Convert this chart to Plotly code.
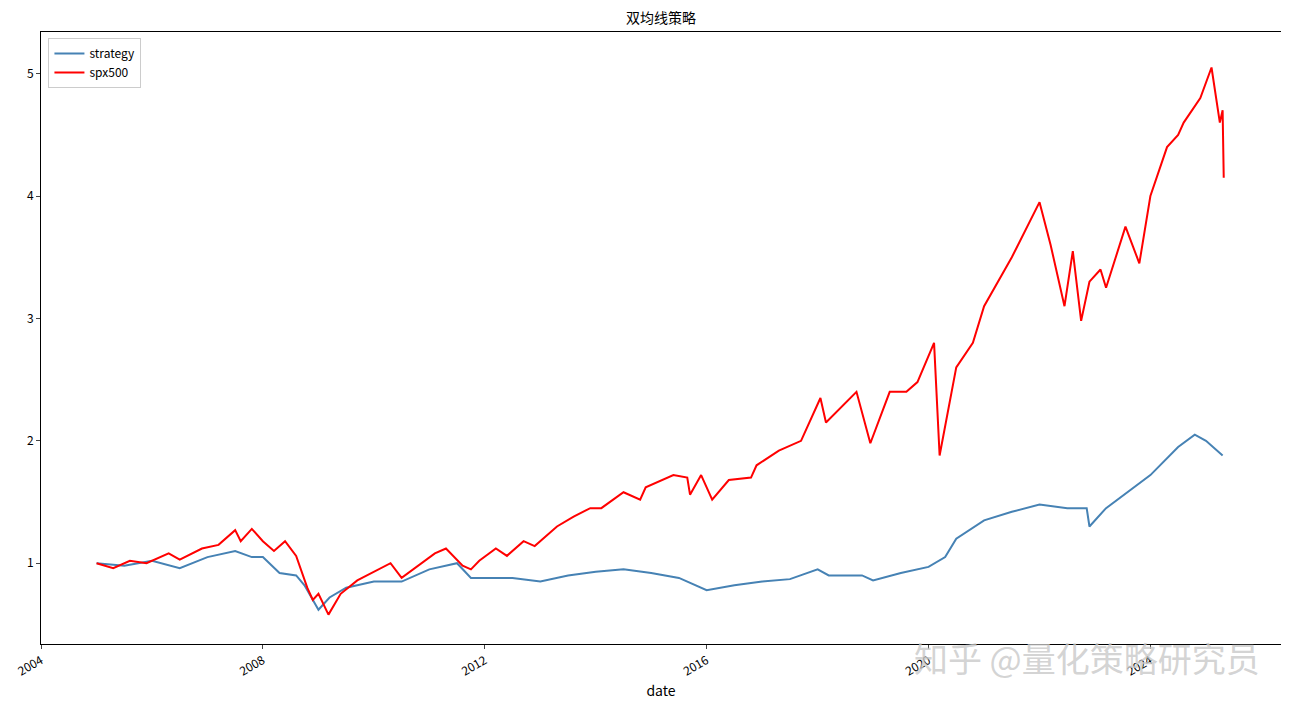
import plotly.graph_objects as go
import pandas as pd

spx_t = [2005.0,2005.3,2005.6,2005.9,2006.3,2006.5,2006.9,2007.2,2007.5,2007.6,2007.8,2008.0,2008.2,2008.4,2008.6,2008.8,2008.9,2009.0,2009.18,2009.4,2009.7,2010.0,2010.3,2010.5,2010.8,2011.1,2011.3,2011.6,2011.75,2011.9,2012.2,2012.4,2012.7,2012.9,2013.3,2013.6,2013.9,2014.1,2014.5,2014.8,2014.9,2015.4,2015.65,2015.7,2015.9,2016.1,2016.4,2016.8,2016.9,2017.3,2017.7,2018.05,2018.15,2018.7,2018.95,2019.3,2019.6,2019.8,2020.1,2020.2,2020.5,2020.8,2021.0,2021.5,2022.0,2022.2,2022.45,2022.6,2022.75,2022.9,2023.1,2023.2,2023.55,2023.8,2024.0,2024.3,2024.5,2024.6,2024.9,2025.1,2025.25,2025.3,2025.32]
spx_v = [1.0,0.96,1.02,1.0,1.08,1.03,1.12,1.15,1.27,1.18,1.28,1.18,1.10,1.18,1.06,0.80,0.70,0.75,0.58,0.75,0.86,0.93,1.00,0.88,0.98,1.08,1.12,0.98,0.95,1.02,1.12,1.06,1.18,1.14,1.30,1.38,1.45,1.45,1.58,1.52,1.62,1.72,1.70,1.56,1.72,1.52,1.68,1.70,1.80,1.92,2.00,2.35,2.15,2.40,1.98,2.40,2.40,2.48,2.80,1.88,2.60,2.80,3.10,3.50,3.95,3.60,3.10,3.55,2.98,3.30,3.40,3.25,3.75,3.45,4.00,4.40,4.50,4.60,4.80,5.05,4.60,4.70,4.15]

str_t = [2005.0,2005.5,2006.0,2006.5,2007.0,2007.5,2007.8,2008.0,2008.3,2008.6,2008.75,2009.0,2009.2,2009.5,2010.0,2010.5,2011.0,2011.5,2011.75,2012.0,2012.5,2013.0,2013.5,2014.0,2014.5,2015.0,2015.5,2016.0,2016.5,2017.0,2017.5,2018.0,2018.2,2018.8,2019.0,2019.5,2020.0,2020.3,2020.5,2021.0,2021.5,2022.0,2022.5,2022.85,2022.9,2023.2,2023.5,2024.0,2024.5,2024.8,2025.0,2025.3]
str_v = [1.0,0.98,1.02,0.96,1.05,1.10,1.05,1.05,0.92,0.90,0.82,0.62,0.72,0.80,0.85,0.85,0.95,1.0,0.88,0.88,0.88,0.85,0.90,0.93,0.95,0.92,0.88,0.78,0.82,0.85,0.87,0.95,0.90,0.90,0.86,0.92,0.97,1.05,1.20,1.35,1.42,1.48,1.45,1.45,1.30,1.45,1.55,1.72,1.95,2.05,2.0,1.88]

tick_years = [2004, 2008, 2012, 2016, 2020, 2024]

def to_dates(ts):
    return [pd.Timestamp(int(t), 1, 1) + pd.Timedelta(days=(t - int(t)) * 365.25) for t in ts]

fig = go.Figure()
fig.add_trace(go.Scatter(x=to_dates(str_t), y=str_v, mode="lines", name="strategy",
                         line=dict(color="#4682b4", width=2)))
fig.add_trace(go.Scatter(x=to_dates(spx_t), y=spx_v, mode="lines", name="spx500",
                         line=dict(color="#ff0000", width=2)))
font = "Noto Sans CJK SC, DejaVu Sans"
fig.update_layout(
    width=1289, height=706, paper_bgcolor="white", plot_bgcolor="white",
    margin=dict(l=33, r=16, t=24, b=70, autoexpand=False),
    title=dict(text="双均线策略", x=0.5, xanchor="center", xref="paper", yref="container",
               y=0.986, yanchor="middle", font=dict(size=14, color="black", family=font)),
    font=dict(family=font, size=12, color="black"),
    legend=dict(x=0.006, y=0.99, xanchor="left", yanchor="top", bordercolor="#cccccc",
                borderwidth=1, bgcolor="white", font=dict(size=12)),
    xaxis=dict(title=dict(text="date", standoff=8), range=[pd.Timestamp(2004, 1, 1), pd.Timestamp(2026, 5, 10)],
               tickvals=[pd.Timestamp(y, 1, 1) for y in tick_years], ticktext=[str(y) for y in tick_years],
               tickangle=-30, showgrid=False, showline=True, linecolor="black", mirror=True,
               ticks="outside", ticklen=4, zeroline=False, automargin=False),
    yaxis=dict(range=[0.34, 5.34], tickvals=[1, 2, 3, 4, 5], showgrid=False, showline=True,
               linecolor="black", mirror=True, ticks="outside", ticklen=4, zeroline=False, automargin=False),
)
fig.add_annotation(text="知乎 @量化策略研究员", xref="paper", yref="paper", x=0.985, y=-0.065,
                   xanchor="right", yanchor="bottom", showarrow=False,
                   font=dict(size=34, color="rgba(200,200,200,0.8)", family=font))
fig.write_html("out.html")
